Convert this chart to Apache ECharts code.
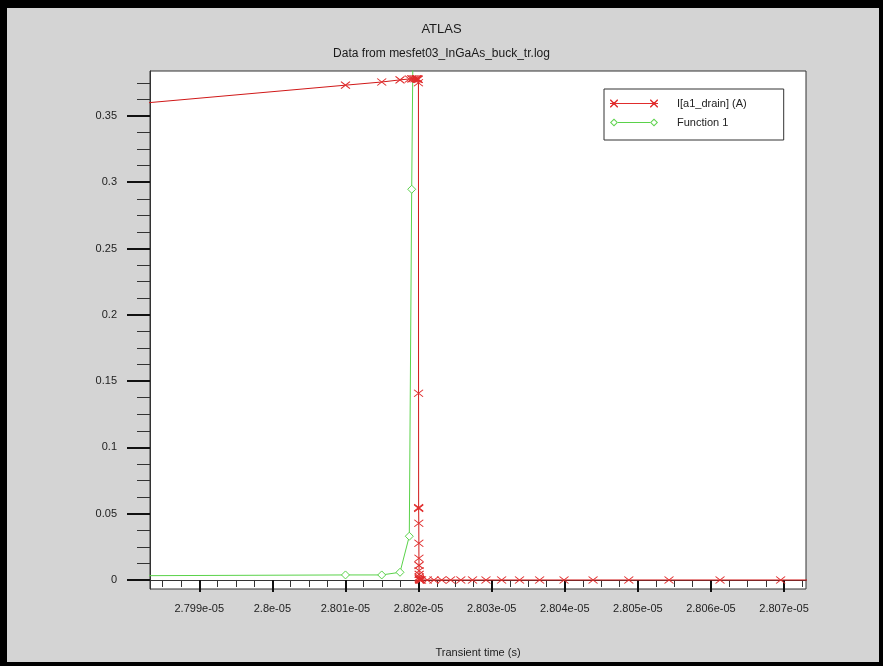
<!DOCTYPE html>
<html>
<head>
<meta charset="utf-8">
<title>ATLAS</title>
<script src="https://cdn.jsdelivr.net/npm/echarts@6/dist/echarts.min.js"></script>
<style>
  html, body { margin: 0; padding: 0; background: #000; }
  #chart { width: 883px; height: 666px; }
</style>
</head>
<body>
<div id="chart"></div>
<script>
// Drain current transient around the switching edge (time in s, current in A)
const drainTime = [
  2.7980e-5, 2.80100e-5, 2.801496e-5, 2.801746e-5, 2.801873e-5, 2.801906e-5,
  2.801925e-5, 2.80195e-5, 2.80197e-5, 2.80198e-5, 2.80199e-5, 2.801995e-5,
  2.801998e-5, 2.802000e-5, 2.802001e-5, 2.802002e-5, 2.802003e-5, 2.802004e-5,
  2.802005e-5, 2.802006e-5, 2.802007e-5, 2.802008e-5, 2.802009e-5, 2.802010e-5,
  2.802012e-5, 2.802015e-5, 2.802018e-5, 2.802028e-5, 2.802040e-5, 2.802119e-5,
  2.802211e-5, 2.802316e-5, 2.802438e-5, 2.802578e-5, 2.802738e-5, 2.802922e-5,
  2.803136e-5, 2.803381e-5, 2.803656e-5, 2.803990e-5, 2.804387e-5, 2.804876e-5,
  2.805426e-5, 2.806124e-5, 2.806953e-5, 2.807900e-5
];
const drainCurrent = [
  0.3585, 0.3732, 0.3756, 0.3772, 0.3779, 0.3780,
  0.3781, 0.3781, 0.3781, 0.3780, 0.3779, 0.3776,
  0.3750, 0.1408, 0.0546, 0.0540, 0.0428, 0.0277,
  0.0164, 0.0110, 0.0070, 0.0042, 0.0022, 0.0010,
  0.0004, 0.0002, 0.0001, 0.0000, 0.0000, 0.0000,
  0.0000, 0.0000, 0.0000, 0.0000, 0.0000, 0.0000,
  0.0000, 0.0000, 0.0000, 0.0000, 0.0000, 0.0000,
  0.0000, 0.0000, 0.0000, 0.0000
];

// Function 1
const funcTime = [2.7980e-5, 2.80100e-5, 2.801496e-5, 2.801746e-5, 2.801873e-5, 2.801906e-5, 2.801925e-5];
const funcValue = [0.0032, 0.0038, 0.0038, 0.0058, 0.0330, 0.2947, 0.4100];

// Axis ticks and labels
const xMajorTicks = [2.799e-5, 2.800e-5, 2.801e-5, 2.802e-5, 2.803e-5, 2.804e-5, 2.805e-5, 2.806e-5, 2.807e-5];
const xTickLabels = ['2.799e-05', '2.8e-05', '2.801e-05', '2.802e-05', '2.803e-05', '2.804e-05', '2.805e-05', '2.806e-05', '2.807e-05'];
const xMinorTicks = [
  2.7985e-5, 2.79875e-5, 2.79925e-5, 2.7995e-5, 2.79975e-5, 2.80025e-5, 2.8005e-5, 2.80075e-5,
  2.80125e-5, 2.8015e-5, 2.80175e-5, 2.80225e-5, 2.8025e-5, 2.80275e-5, 2.80325e-5, 2.8035e-5,
  2.80375e-5, 2.80425e-5, 2.8045e-5, 2.80475e-5, 2.80525e-5, 2.8055e-5, 2.80575e-5, 2.80625e-5,
  2.8065e-5, 2.80675e-5, 2.80725e-5
];
const yMajorTicks = [0, 0.05, 0.1, 0.15, 0.2, 0.25, 0.3, 0.35];
const yTickLabels = ['0', '0.05', '0.1', '0.15', '0.2', '0.25', '0.3', '0.35'];
const yMinorTicks = [
  0.0125, 0.025, 0.0375, 0.0625, 0.075, 0.0875, 0.1125, 0.125, 0.1375, 0.1625, 0.175, 0.1875,
  0.2125, 0.225, 0.2375, 0.2625, 0.275, 0.2875, 0.3125, 0.325, 0.3375, 0.3625, 0.375
];

const X_MIN = 2.798326e-5, X_MAX = 2.80730e-5;
const Y_MIN = -0.0068, Y_MAX = 0.3839;

const FONT = "'Liberation Sans', Arial, sans-serif";
const RED_LINE = '#d01818';
const RED_MARK = '#e02c2c';
const GREEN = '#5ad24a';
const DRAIN_NAME = 'I[a1_drain] (A)';
const FUNC_NAME = 'Function 1';

// Legend glyphs as filled outlines: a short line with a marker at each end
const DRAIN_ICON = 'path://' +
  'M0,3.5L48,3.5L48,4.5L0,4.5Z' +
  'M0,0L1,0L8,7L8,8L7,8L0,1Z' + 'M0,8L0,7L7,0L8,0L8,1L1,8Z' +
  'M40,0L41,0L48,7L48,8L47,8L40,1Z' + 'M40,8L40,7L47,0L48,0L48,1L41,8Z';
const FUNC_ICON = 'path://' +
  'M8,3.5L40,3.5L40,4.5L8,4.5Z' +
  'M4,0L8,4L4,8L0,4Z' + 'M4,1.4L1.4,4L4,6.6L6.6,4Z' +
  'M44,0L48,4L44,8L40,4Z' + 'M44,1.4L41.4,4L44,6.6L46.6,4Z';

function labelFrom(ticks, labels) {
  return function (v) {
    const scale = Math.max(1e-30, Math.abs(ticks[ticks.length - 1]));
    const i = ticks.findIndex(t => Math.abs(t - v) < scale * 1e-6);
    return i >= 0 ? labels[i] : '';
  };
}

const chart = echarts.init(document.getElementById('chart'), null, { renderer: 'canvas' });

chart.setOption({
  animation: false,
  backgroundColor: '#000',
  graphic: [{
    type: 'rect', silent: true, z: -100,
    shape: { x: 7, y: 8, width: 872, height: 654 },
    style: { fill: '#d4d4d4' }
  }],
  title: [
    { text: 'ATLAS', left: 'center', top: 23, padding: 0,
      textStyle: { fontFamily: FONT, fontSize: 13, fontWeight: 'normal', color: '#1a1a1a' } },
    { text: 'Data from mesfet03_InGaAs_buck_tr.log', left: 'center', top: 48, padding: 0,
      textStyle: { fontFamily: FONT, fontSize: 12, fontWeight: 'normal', color: '#1a1a1a' } }
  ],
  legend: {
    orient: 'vertical',
    left: 604, top: 89,
    padding: [9, 37, 12, 6],
    itemGap: 8,
    itemWidth: 48, itemHeight: 8,
    selectedMode: false,
    backgroundColor: '#fff',
    borderColor: '#333', borderWidth: 1,
    textStyle: { fontFamily: FONT, fontSize: 11, color: '#222', padding: [0, 0, 0, 14] },
    data: [
      { name: DRAIN_NAME, icon: DRAIN_ICON, itemStyle: { color: RED_MARK, borderWidth: 0 } },
      { name: FUNC_NAME, icon: FUNC_ICON, itemStyle: { color: GREEN, borderWidth: 0 } }
    ]
  },
  grid: {
    left: 150, top: 71, width: 656, height: 518,
    show: true, backgroundColor: '#fff', borderColor: '#333', borderWidth: 1,
    containLabel: false
  },
  xAxis: [
    {
      type: 'value', min: X_MIN, max: X_MAX, position: 'bottom',
      axisLine: { show: true, lineStyle: { color: '#333' } },
      splitLine: { show: false },
      axisTick: { show: true, inside: false, length: 12, customValues: xMajorTicks,
        lineStyle: { color: '#111', width: 2 } },
      axisLabel: { customValues: xMajorTicks, formatter: labelFrom(xMajorTicks, xTickLabels),
        margin: 14, fontFamily: FONT, fontSize: 11, color: '#222', hideOverlap: false },
      name: 'Transient time (s)', nameLocation: 'middle', nameGap: 58,
      nameTextStyle: { fontFamily: FONT, fontSize: 11, color: '#222' }
    },
    {
      type: 'value', min: X_MIN, max: X_MAX, position: 'bottom',
      axisLine: { show: false }, splitLine: { show: false },
      axisTick: { show: true, inside: false, length: 7, customValues: xMinorTicks,
        lineStyle: { color: '#333', width: 1 } },
      axisLabel: { show: false }
    }
  ],
  yAxis: [
    {
      type: 'value', min: Y_MIN, max: Y_MAX, position: 'left',
      axisLine: { show: true, lineStyle: { color: '#333' } },
      splitLine: { show: false },
      axisTick: { show: true, inside: false, length: 23, customValues: yMajorTicks,
        lineStyle: { color: '#111', width: 2 } },
      axisLabel: { customValues: yMajorTicks, formatter: labelFrom(yMajorTicks, yTickLabels),
        margin: 33, fontFamily: FONT, fontSize: 11, color: '#222' }
    },
    {
      type: 'value', min: Y_MIN, max: Y_MAX, position: 'left',
      axisLine: { show: false }, splitLine: { show: false },
      axisTick: { show: true, inside: false, length: 13, customValues: yMinorTicks,
        lineStyle: { color: '#333', width: 1 } },
      axisLabel: { show: false }
    }
  ],
  series: [
    {
      name: FUNC_NAME, type: 'line', xAxisIndex: 0, yAxisIndex: 0, z: 2,
      data: funcTime.map((t, i) => [t, funcValue[i]]),
      symbol: 'diamond', symbolSize: [8, 8], showSymbol: true, showAllSymbol: true,
      clip: true,
      lineStyle: { color: GREEN, width: 1 },
      itemStyle: { color: '#fff', borderColor: GREEN, borderWidth: 1 },
      emphasis: { disabled: true }
    },
    {
      name: DRAIN_NAME, type: 'line', xAxisIndex: 0, yAxisIndex: 0, z: 3,
      data: drainTime.map((t, i) => [t, drainCurrent[i]]),
      symbol: 'path://M0,0L8,6M0,6L8,0', symbolSize: [9, 7], showSymbol: true, showAllSymbol: true,
      clip: true,
      lineStyle: { color: RED_LINE, width: 1 },
      itemStyle: { color: 'rgba(0,0,0,0)', borderColor: RED_MARK, borderWidth: 1 },
      emphasis: { disabled: true }
    }
  ]
});
</script>
</body>
</html>
